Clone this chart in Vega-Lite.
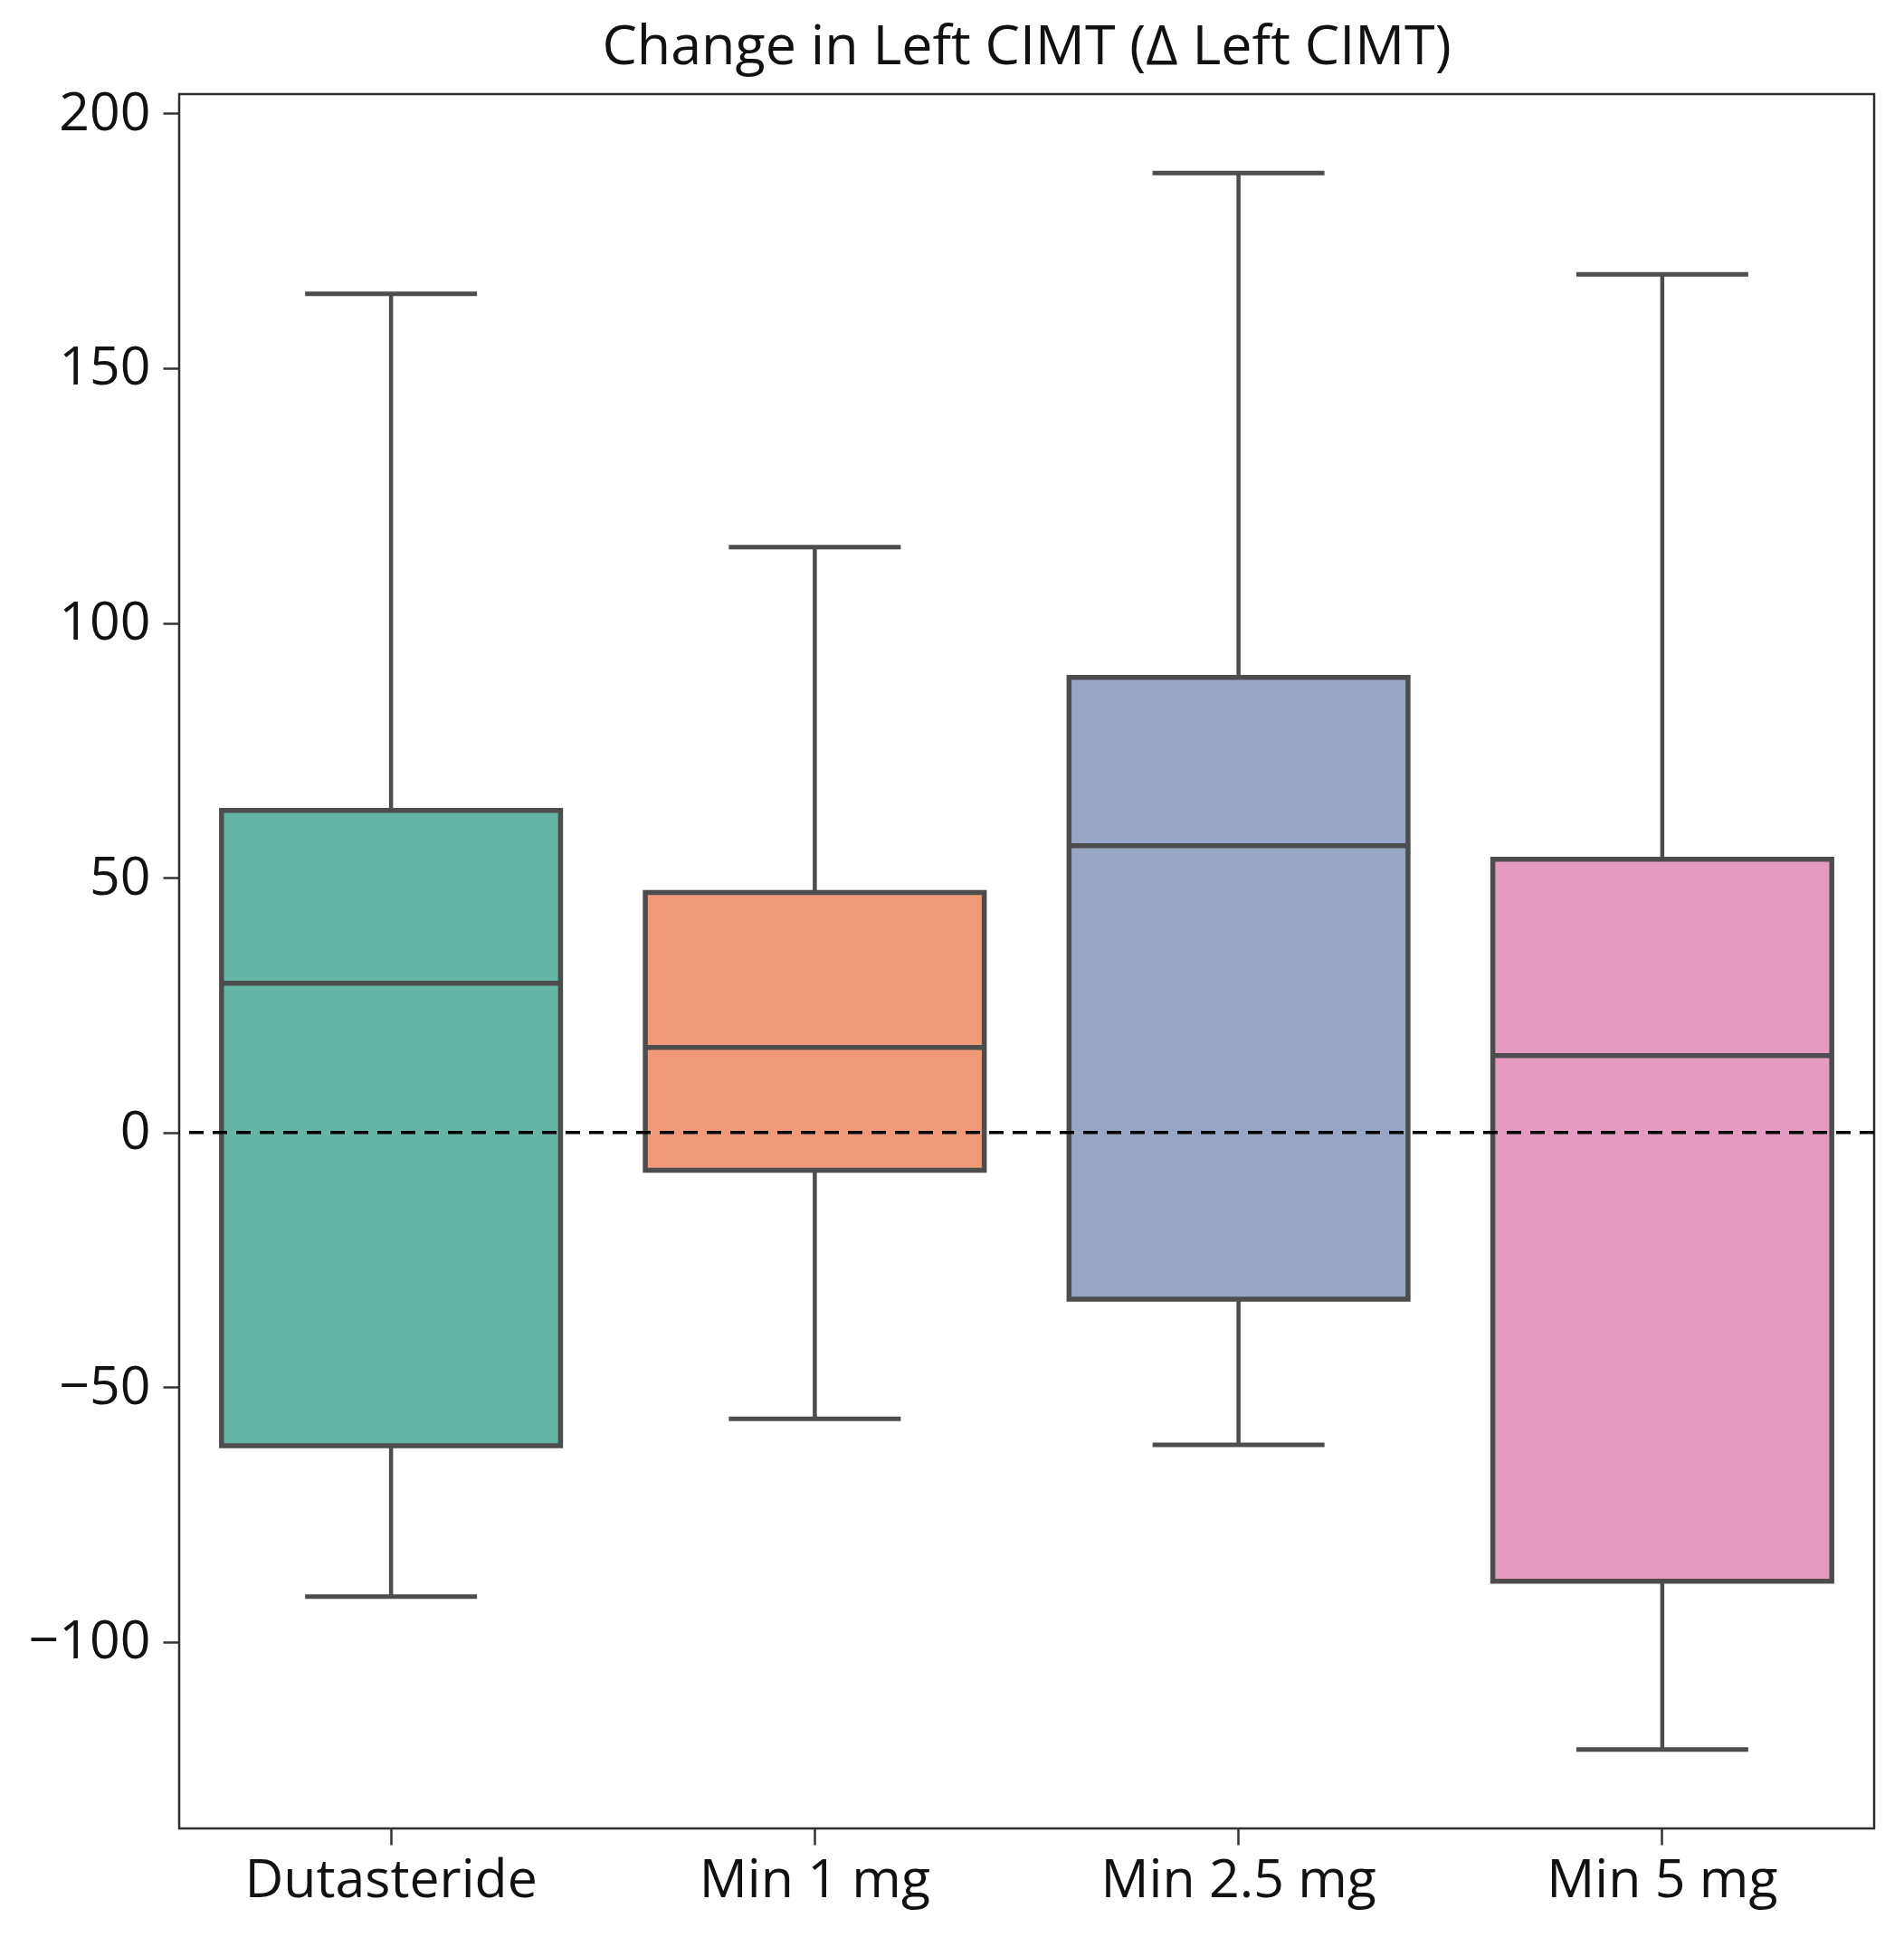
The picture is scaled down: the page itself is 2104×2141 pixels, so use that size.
{
  "$schema": "https://vega.github.io/schema/vega-lite/v6.json",
  "width": 1873,
  "height": 1917,
  "autosize": {"type": "none"},
  "padding": {"left": 198, "top": 104, "right": 33, "bottom": 120},
  "background": "white",
  "title": {
    "text": "Change in Left CIMT (Δ Left CIMT)",
    "font": "Open Sans",
    "fontSize": 61,
    "fontWeight": "normal",
    "color": "#111111",
    "anchor": "middle",
    "offset": 12
  },
  "config": {
    "view": {"stroke": "#2e2e2e", "strokeWidth": 2.5},
    "axis": {
      "grid": false,
      "domain": false,
      "ticks": true,
      "tickColor": "#333333",
      "tickWidth": 2.5,
      "tickSize": 18,
      "labelFont": "Open Sans",
      "labelFontSize": 59,
      "labelColor": "#111111",
      "labelLimit": 0,
      "title": null
    }
  },
  "data": {
    "values": [
      {"group": "Dutasteride", "lower": -91.1, "q1": -61.5, "median": 29.3, "q3": 63.2, "upper": 164.6},
      {"group": "Min 1 mg", "lower": -56.2, "q1": -7.4, "median": 16.7, "q3": 47.1, "upper": 114.9},
      {"group": "Min 2.5 mg", "lower": -61.3, "q1": -32.7, "median": 56.3, "q3": 89.3, "upper": 188.3},
      {"group": "Min 5 mg", "lower": -121.1, "q1": -88.1, "median": 15.1, "q3": 53.6, "upper": 168.4}
    ]
  },
  "encoding": {
    "x": {
      "field": "group",
      "type": "nominal",
      "sort": ["Dutasteride", "Min 1 mg", "Min 2.5 mg", "Min 5 mg"],
      "scale": {"paddingInner": 0, "paddingOuter": 0},
      "axis": {"labelAngle": 0, "labelPadding": 10}
    }
  },
  "layer": [
    {
      "mark": {"type": "rule", "color": "#4d4d4d", "strokeWidth": 4.5},
      "encoding": {
        "y": {
          "field": "lower",
          "type": "quantitative",
          "scale": {"domain": [-136.6, 203.8], "nice": false, "zero": false},
          "axis": {"values": [-100, -50, 0, 50, 100, 150, 200], "labelPadding": 14}
        },
        "y2": {"field": "q1"}
      }
    },
    {
      "mark": {"type": "rule", "color": "#4d4d4d", "strokeWidth": 4.5},
      "encoding": {
        "y": {"field": "q3", "type": "quantitative"},
        "y2": {"field": "upper"}
      }
    },
    {
      "mark": {"type": "bar", "width": {"band": 0.8}, "stroke": "#4d4d4d", "strokeWidth": 5.5},
      "encoding": {
        "y": {"field": "q1", "type": "quantitative"},
        "y2": {"field": "q3"},
        "color": {
          "field": "group",
          "type": "nominal",
          "scale": {
            "domain": ["Dutasteride", "Min 1 mg", "Min 2.5 mg", "Min 5 mg"],
            "range": ["#64b5a3", "#f09a7a", "#97a6c5", "#e59ac0"]
          },
          "legend": null
        }
      }
    },
    {
      "mark": {"type": "tick", "orient": "horizontal", "size": 372, "thickness": 5.5, "color": "#4d4d4d", "opacity": 1},
      "encoding": {"y": {"field": "median", "type": "quantitative"}}
    },
    {
      "mark": {"type": "tick", "orient": "horizontal", "size": 190, "thickness": 5, "color": "#4d4d4d", "opacity": 1},
      "encoding": {"y": {"field": "upper", "type": "quantitative"}}
    },
    {
      "mark": {"type": "tick", "orient": "horizontal", "size": 190, "thickness": 5, "color": "#4d4d4d", "opacity": 1},
      "encoding": {"y": {"field": "lower", "type": "quantitative"}}
    },
    {
      "data": {"values": [{"ref": 0}]},
      "mark": {"type": "rule", "color": "#000000", "strokeWidth": 3.5, "strokeDash": [16, 10]},
      "encoding": {
        "x": null,
        "y": {"field": "ref", "type": "quantitative"}
      }
    }
  ]
}
